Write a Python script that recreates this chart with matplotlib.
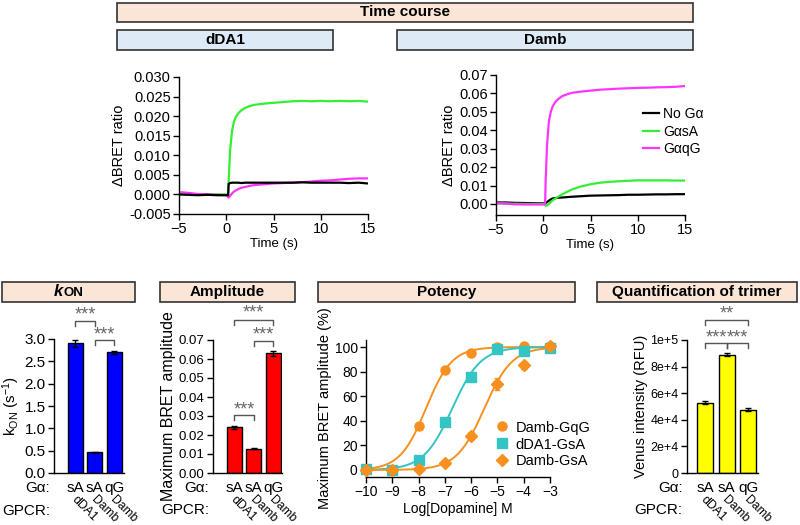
import numpy as np
import matplotlib.pyplot as plt
from matplotlib.patches import Rectangle

plt.rcParams['font.family'] = ['Liberation Sans', 'DejaVu Sans']
plt.rcParams['mathtext.default'] = 'regular'
plt.rcParams['font.size'] = 10

# ---- time course traces ----
t = [-5, -4, -3, -2, -1, 0, 0.2, 0.25, 0.4, 0.6, 0.8, 1.0, 1.3, 1.6, 2, 2.5,
     3, 4, 5, 6, 7, 8, 9, 10, 11, 12, 13, 14, 15]

dda1_none = [0.0, -0.0001, -0.0002, -0.0001, -0.0002, -0.0002, -0.0002, 0.0027, 0.0029,
             0.003, 0.003, 0.003, 0.003, 0.0029, 0.003, 0.003, 0.003, 0.003, 0.003,
             0.003, 0.003, 0.0031, 0.003, 0.003, 0.003, 0.003, 0.0029, 0.003, 0.0028]
dda1_sA = [0.0, 0.0, 0.0, 0.0, 0.0, 0.0, 0.0, 0.003, 0.011, 0.016, 0.0185, 0.0197,
           0.0208, 0.0215, 0.0221, 0.0226, 0.0229, 0.0232, 0.0234, 0.0236, 0.0238,
           0.0239, 0.0238, 0.0239, 0.0238, 0.0239, 0.0238, 0.0239, 0.0237]
dda1_qG = [0.0006, 0.0004, 0.0001, 0.0, -0.0001, -0.0002, -0.0006, -0.0008, -0.0004,
           0.0002, 0.0007, 0.001, 0.0014, 0.0017, 0.0019, 0.0022, 0.0024, 0.0026,
           0.0028, 0.0029, 0.003, 0.0031, 0.0033, 0.0035, 0.0036, 0.0038, 0.004,
           0.0041, 0.0041]

damb_none = [0.0008, 0.0008, 0.0006, 0.0005, 0.0004, 0.0003, 0.0003, 0.0005, 0.001,
             0.0018, 0.0025, 0.003, 0.0032, 0.0034, 0.0035, 0.0037, 0.0039, 0.0042,
             0.0045, 0.0046, 0.0047, 0.0048, 0.005, 0.005, 0.0051, 0.0052, 0.0052,
             0.0053, 0.0053]
damb_sA = [0.0003, 0.0002, 0.0001, 0.0, 0.0, 0.0, -0.0005, -0.001, -0.0008, 0.0, 0.001,
           0.002, 0.003, 0.004, 0.0052, 0.0065, 0.0078, 0.0095, 0.0107, 0.0115, 0.012,
           0.0123, 0.0126, 0.0128, 0.0128, 0.0128, 0.0128, 0.0127, 0.0127]
damb_qG = [0.0004, 0.0002, -0.0002, -0.0003, -0.0003, -0.0003, 0.0, 0.012, 0.032,
           0.045, 0.05, 0.053, 0.0555, 0.057, 0.0585, 0.0595, 0.0603, 0.061, 0.0615,
           0.062, 0.0623, 0.0626, 0.0628, 0.063, 0.0631, 0.0633, 0.0634, 0.0636, 0.064]

trace_labels = ['No G\u03b1', 'G\u03b1sA', 'G\u03b1qG']

# ---- bar panels ----
ga_labels = ['sA', 'sA', 'qG']
gpcr_labels = ['dDA1', 'Damb', 'Damb']

kon_vals = [2.9, 0.46, 2.7]
kon_errs = [0.07, 0.01, 0.03]

amp_vals = [0.024, 0.0127, 0.063]
amp_errs = [0.001, 0.0003, 0.0013]

venus_vals = [53000, 89000, 47500]
venus_errs = [1200, 900, 1000]
venus_ticks = [0, 20000, 40000, 60000, 80000, 100000]
venus_ticklabels = ['0', '2e+4', '4e+4', '6e+4', '8e+4', '1e+5']

# ---- potency ----
log_dop = [-10, -9, -8, -7, -6, -5, -4, -3]
pot_names = ['Damb-GqG', 'dDA1-GsA', 'Damb-GsA']
pot_vals = [[0, 0, 36, 81, 95, 100, 101, 101],
            [1, 0, 8, 39, 76, 98, 97, 99],
            [0, 0, 1, 6, 28, 70, 85, 101]]
pot_errs = [[0.5, 0.5, 1, 1, 1, 1, 1, 0.5],
            [0.5, 0.5, 1, 1, 1, 1, 1, 0.5],
            [0.5, 0.5, 3, 2, 3, 5, 3, 0.5]]
pot_logec50 = [-7.72, -6.72, -5.5]
pot_hill = [0.88, 0.8, 0.82]

W, H = 800, 525
fig = plt.figure(figsize=(8, 5.25), dpi=100)


def fpos(left, top, right, bottom):
    return [left / W, 1 - bottom / H, (right - left) / W, (bottom - top) / H]


def title_box(left, top, right, bottom, text, color, size=11):
    fig.add_artist(Rectangle((left / W, 1 - bottom / H), (right - left) / W,
                             (bottom - top) / H, transform=fig.transFigure,
                             facecolor=color, edgecolor='#333333', lw=1.2))
    if text:
        fig.text((left + right) / 2 / W, 1 - (top + bottom) / 2 / H, text,
                 ha='center', va='center', fontweight='bold', fontsize=size)


def style(ax, tsize=10.5):
    for s in ['top', 'right']:
        ax.spines[s].set_visible(False)
    for s in ['left', 'bottom']:
        ax.spines[s].set_linewidth(1)
    ax.tick_params(direction='out', length=4, width=1, labelsize=tsize, pad=2)


def bracket(ax, x0, x1, y, drop, text, ty):
    ax.plot([x0, x0, x1, x1], [y - drop, y, y, y - drop], color='#555555',
            lw=1, clip_on=False)
    # asterisks sit high in their text box, so nudge them down a little
    ax.annotate(text, ((x0 + x1) / 2, ty), xytext=(0, -3),
                textcoords='offset points', ha='center', va='center',
                color='#666666', fontsize=13, annotation_clip=False)


def bar_panel(ax, vals, errs, color, ylabel, tsize, lsize):
    x = np.arange(len(vals))
    ax.bar(x, vals, width=0.76, color=color, edgecolor='black', lw=1, zorder=2)
    ax.errorbar(x, vals, yerr=errs, fmt='none', ecolor='black', capsize=2.5,
                elinewidth=1, capthick=1, zorder=3)
    style(ax, tsize)
    ax.set_xticks([])
    ax.set_ylabel(ylabel, fontsize=lsize, labelpad=2)
    tr = ax.get_xaxis_transform()
    for i in x:
        ax.text(i, -0.11, ga_labels[i], transform=tr, ha='center', va='center',
                fontsize=11)
        ax.text(i - 0.22, -0.205, gpcr_labels[i], transform=tr, ha='left',
                va='baseline', rotation=-45, rotation_mode='anchor', fontsize=8.7)
    ax.text(-0.06, -0.11, 'G\u03b1:', transform=ax.transAxes, ha='right',
            va='center', fontsize=11)
    ax.text(-0.06, -0.28, 'GPCR:', transform=ax.transAxes, ha='right',
            va='center', fontsize=11)


# ---- header boxes ----
title_box(117, 3, 693, 22, 'Time course', '#fbe5d6')
title_box(117, 30, 333, 50, 'dDA1', '#deebf7')
title_box(397, 30, 693, 50, 'Damb', '#deebf7')

title_box(2, 282, 135, 302, '', '#fbe5d6')
fig.text(63 / W, 1 - 292 / H, 'k', ha='right', va='center', fontweight='bold',
         fontstyle='italic', fontsize=12)
fig.text(64 / W, 1 - 293.5 / H, 'ON', ha='left', va='center', fontweight='bold',
         fontsize=9.5)
title_box(160, 282, 295, 302, 'Amplitude', '#fbe5d6')
title_box(318, 282, 575, 302, 'Potency', '#fbe5d6')
title_box(597, 282, 797, 302, 'Quantification of trimer', '#fbe5d6')

# ---- time course axes ----
colors = ['black', '#33ee33', '#ff33ff']
ax1 = fig.add_axes(fpos(179, 77, 368, 214))
for ys, c in zip([dda1_sA, dda1_qG, dda1_none], [colors[1], colors[2], colors[0]]):
    ax1.plot(t, ys, color=c, lw=1.6)
ax1.set_xlim(-5, 15)
ax1.set_ylim(-0.005, 0.030)
ax1.set_yticks(np.arange(-0.005, 0.0301, 0.005))
ax1.set_yticklabels(['%.3f' % v for v in np.arange(-0.005, 0.0301, 0.005)])
ax1.set_xticks([-5, 0, 5, 10, 15])
ax1.set_xlabel('Time (s)', fontsize=9.5, labelpad=1)
ax1.set_ylabel('\u0394BRET ratio', fontsize=10.5, labelpad=2)
style(ax1)

ax2 = fig.add_axes(fpos(496, 75, 685, 215))
lines = []
for ys, c in zip([damb_none, damb_sA, damb_qG], colors):
    lines.append(ax2.plot(t, ys, color=c, lw=1.6)[0])
ax2.set_xlim(-5, 15)
ax2.set_ylim(-0.006, 0.07)
ax2.set_yticks(np.arange(0, 0.0701, 0.01))
ax2.set_yticklabels(['%.2f' % v for v in np.arange(0, 0.0701, 0.01)])
ax2.set_xticks([-5, 0, 5, 10, 15])
ax2.set_xlabel('Time (s)', fontsize=9.5, labelpad=1)
ax2.set_ylabel('\u0394BRET ratio', fontsize=10.5, labelpad=2)
style(ax2)
ax2.legend(lines, trace_labels, loc='upper left', bbox_to_anchor=(0.75, 0.81),
           frameon=False, fontsize=10, handlelength=1.1, handletextpad=0.3,
           labelspacing=0.25, borderaxespad=0)

# ---- kON ----
ax3 = fig.add_axes(fpos(54, 339, 124, 473))
bar_panel(ax3, kon_vals, kon_errs, '#0000ff', r'k$_{ON}$ (s$^{-1}$)', 11, 11)
ax3.set_xlim(-1.1, 2.5)
ax3.set_ylim(0, 3.0)
ax3.set_yticks(np.arange(0, 3.01, 0.5))
ax3.set_yticklabels(['%.1f' % v for v in np.arange(0, 3.01, 0.5)])
bracket(ax3, 0, 1, 3.4, 0.1, '***', 3.62)
bracket(ax3, 1, 2, 2.97, 0.1, '***', 3.18)

# ---- amplitude ----
ax4 = fig.add_axes(fpos(213, 340, 282, 473))
bar_panel(ax4, amp_vals, amp_errs, '#ff0000', 'Maximum BRET amplitude', 9.5, 11.5)
ax4.set_xlim(-1.1, 2.45)
ax4.set_ylim(0, 0.07)
ax4.set_yticks(np.arange(0, 0.0701, 0.01))
ax4.set_yticklabels(['%.2f' % v for v in np.arange(0, 0.0701, 0.01)])
bracket(ax4, 0, 2, 0.0805, 0.0025, '***', 0.0862)
bracket(ax4, 1, 2, 0.0695, 0.0025, '***', 0.075)
bracket(ax4, 0, 1, 0.0305, 0.0025, '***', 0.0355)

# ---- potency ----
ax5 = fig.add_axes(fpos(366, 340, 550, 477))
pot_colors = ['#f7901e', '#33c4c4', '#f7901e']
pot_markers = ['o', 's', 'D']
xx = np.linspace(-10, -3, 300)
handles = []
for i in range(3):
    curve = 100 / (1 + 10 ** (pot_hill[i] * (pot_logec50[i] - xx)))
    ax5.plot(xx, curve, color=pot_colors[i], lw=1.4, clip_on=False)
    h = ax5.errorbar(log_dop, pot_vals[i], yerr=pot_errs[i], fmt=pot_markers[i],
                     color=pot_colors[i], ms=6.5 if i < 2 else 6, elinewidth=1,
                     capsize=2, clip_on=False, zorder=3)
    handles.append(h[0])
ax5.set_xlim(-10, -3)
ax5.set_ylim(-5.7, 105.7)
ax5.set_xticks(log_dop)
ax5.set_yticks([0, 20, 40, 60, 80, 100])
ax5.set_xlabel('Log[Dopamine] M', fontsize=10, labelpad=2)
ax5.set_ylabel('Maximum BRET amplitude (%)', fontsize=10.5, labelpad=2)
style(ax5, 10)
ax5.legend(handles, pot_names, loc='lower left', bbox_to_anchor=(0.67, 0.02),
           frameon=False, fontsize=10.5, handlelength=1.0, handletextpad=0.4,
           labelspacing=0.2, borderaxespad=0)

# ---- trimer quantification ----
ax6 = fig.add_axes(fpos(687, 340, 758, 473))
bar_panel(ax6, venus_vals, venus_errs, '#ffff00', 'Venus intensity (RFU)', 9, 10.5)
ax6.set_xlim(-0.85, 2.45)
ax6.set_ylim(0, 100000)
ax6.set_yticks(venus_ticks)
ax6.set_yticklabels(venus_ticklabels)
bracket(ax6, 0, 2, 115000, 4000, '**', 122500)
bracket(ax6, 0, 1, 97700, 4000, '***', 105000)
bracket(ax6, 1, 2, 97700, 4000, '***', 105000)

fig.savefig('out.png', dpi=100)
